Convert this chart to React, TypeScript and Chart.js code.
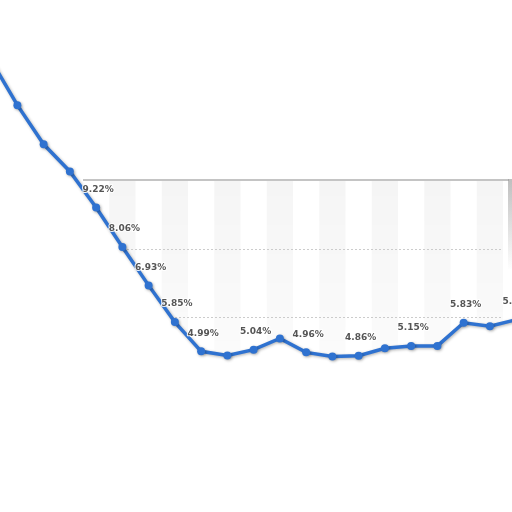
import { useEffect, useRef } from 'react'
import { Chart, registerables } from 'chart.js'
import type { Plugin } from 'chart.js'

Chart.register(...registerables)

// reporting periods; only 5..20 sit inside the plot window, the rest run off its edges
const periods = [1, 2, 3, 4, 5, 6, 7, 8, 9, 10, 11, 12, 13, 14, 15, 16, 17, 18, 19, 20, 21]
const rates = [
  13.55, 12.23, 11.08, 10.28, 9.22, 8.06, 6.93, 5.85, 4.99, 4.87, 5.04,
  5.37, 4.96, 4.84, 4.86, 5.08, 5.15, 5.15, 5.83, 5.73, 5.92,
]
const windowStart = 4.5
const windowEnd = 20.5
const yMin = 4
const yMax = 10

const LINE = '#2f72d0'

const bandsPlugin: Plugin<'line'> = {
  id: 'bands',
  beforeDraw(chart) {
    const { ctx, chartArea: a } = chart
    const x = chart.scales.x
    const grad = ctx.createLinearGradient(0, a.top, 0, a.bottom)
    grad.addColorStop(0, 'rgba(0,0,0,0.038)')
    grad.addColorStop(1, 'rgba(0,0,0,0.012)')
    ctx.save()
    ctx.beginPath()
    ctx.rect(a.left, a.top, a.right - a.left, a.bottom - a.top)
    ctx.clip()
    ctx.fillStyle = grad
    periods.forEach((p) => {
      if (p % 2 !== 0) return
      const l = x.getPixelForValue(p - 0.5)
      const r = x.getPixelForValue(p + 0.5)
      ctx.fillRect(l, a.top, r - l, a.bottom - a.top)
    })
    ctx.restore()

    // plot frame: top edge and a soft right edge
    ctx.save()
    ctx.strokeStyle = '#c4c4c4'
    ctx.lineWidth = 2
    ctx.beginPath()
    ctx.moveTo(a.left, a.top - 1)
    ctx.lineTo(a.right + 6, a.top - 1)
    ctx.stroke()
    const g2 = ctx.createLinearGradient(0, a.top, 0, a.top + 90)
    g2.addColorStop(0, 'rgba(150,150,150,0.6)')
    g2.addColorStop(1, 'rgba(150,150,150,0)')
    ctx.fillStyle = g2
    ctx.fillRect(a.right + 5, a.top - 2, 4, 90)
    ctx.restore()
  },
}

const shadowPlugin: Plugin<'line'> = {
  id: 'lineShadow',
  beforeDatasetDraw(chart) {
    const ctx = chart.ctx
    ctx.save()
    ctx.shadowColor = 'rgba(0,0,0,0.3)'
    ctx.shadowBlur = 3
    ctx.shadowOffsetX = 1
    ctx.shadowOffsetY = 1
  },
  afterDatasetDraw(chart) {
    const { ctx, chartArea: a } = chart
    // Chart.js skips markers outside the chart area; draw those too
    chart.getDatasetMeta(0).data.forEach((pt) => {
      if (pt.x < a.left || pt.x > a.right || pt.y < a.top || pt.y > a.bottom) pt.draw(ctx)
    })
    ctx.restore()
  },
}

const labelPlugin: Plugin<'line'> = {
  id: 'pointLabels',
  afterDatasetsDraw(chart) {
    const { ctx, chartArea: a } = chart
    const meta = chart.getDatasetMeta(0)
    const placed: { l: number; r: number; t: number; b: number }[] = []
    ctx.save()
    ctx.font = 'bold 9px "DejaVu Sans"'
    ctx.textAlign = 'center'
    ctx.textBaseline = 'middle'
    ctx.lineJoin = 'round'
    meta.data.forEach((pt, i) => {
      if (pt.x < a.left) return
      const text = `${rates[i].toFixed(2)}%`
      const w = ctx.measureText(text).width + 10
      const cx = pt.x + 2
      const cy = pt.y - 18
      const box = { l: cx - w / 2, r: cx + w / 2, t: cy - 10, b: cy + 10 }
      const hit = placed.some((o) => box.l < o.r && box.r > o.l && box.t < o.b && box.b > o.t)
      if (hit) return
      placed.push(box)
      ctx.strokeStyle = 'rgba(255,255,255,0.9)'
      ctx.lineWidth = 2
      ctx.strokeText(text, cx, cy)
      ctx.fillStyle = '#555555'
      ctx.fillText(text, cx, cy)
    })
    ctx.restore()
  },
}

export default function App() {
  const canvasRef = useRef<HTMLCanvasElement>(null)
  const chartRef = useRef<Chart | null>(null)

  useEffect(() => {
    if (!canvasRef.current) return
    chartRef.current?.destroy()

    chartRef.current = new Chart(canvasRef.current, {
      type: 'line',
      data: {
        datasets: [{
          data: periods.map((p, i) => ({ x: p, y: rates[i] })),
          borderColor: LINE,
          borderWidth: 3.5,
          pointRadius: 4,
          pointBackgroundColor: LINE,
          pointBorderWidth: 0,
          fill: 'start',
          backgroundColor: '#ffffff',
          clip: false,
          tension: 0,
        }],
      },
      options: {
        responsive: true,
        maintainAspectRatio: false,
        animation: false,
        layout: { padding: { left: 83, right: 9, top: 181, bottom: 127 } },
        plugins: {
          legend: { display: false },
          tooltip: { enabled: false },
        },
        scales: {
          x: {
            type: 'linear',
            bounds: 'data',
            display: false,
            // window set after the data limits so the off-window points still get drawn
            afterDataLimits: (s) => { s.min = windowStart; s.max = windowEnd },
          },
          y: {
            min: yMin,
            max: yMax,
            ticks: { display: false, stepSize: 2 },
            grid: {
              drawTicks: false,
              color: (c) => (c.tick?.value === yMax || c.tick?.value === yMin ? 'rgba(0,0,0,0)' : '#cccccc'),
              lineWidth: 1,
            },
            border: { display: false, dash: [2, 2] },
          },
        },
      },
      plugins: [bandsPlugin, shadowPlugin, labelPlugin],
    })

    return () => { chartRef.current?.destroy(); chartRef.current = null }
  }, [])

  return (
    <div style={{ position: 'absolute', left: 0, top: 0, width: 512, height: 512, background: '#fff' }}>
      <canvas ref={canvasRef} />
    </div>
  )
}
